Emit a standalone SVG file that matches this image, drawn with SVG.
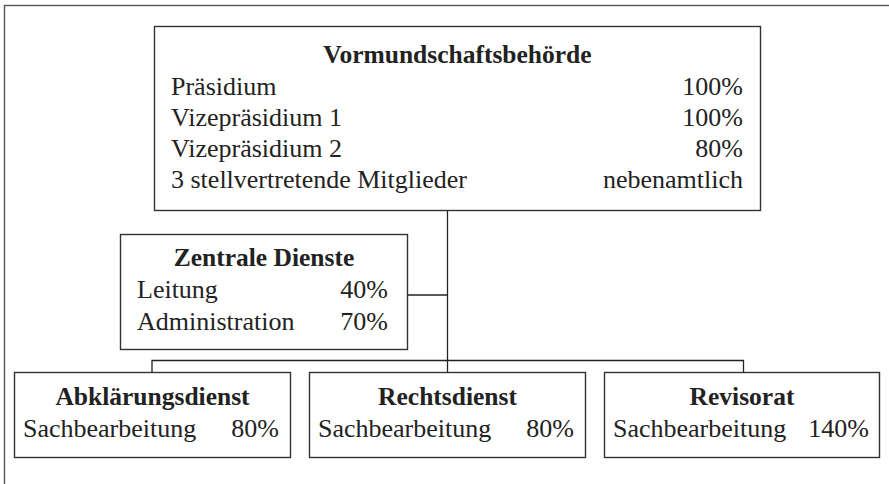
<svg xmlns="http://www.w3.org/2000/svg" width="889" height="484" viewBox="0 0 889 484">
<style>
.box{fill:#fff;stroke:#333;stroke-width:1.4}
.frame{fill:none;stroke:#555;stroke-width:1.4}
.con{fill:none;stroke:#222;stroke-width:1.3}
text{font-family:"Liberation Serif","Times New Roman",serif;font-size:26px;fill:#222}
.t{font-weight:bold;text-anchor:middle;font-size:25.5px}
.r{text-anchor:end}
</style>
<rect class="frame" x="4.5" y="5.5" width="900" height="500"/>
<g id="connectors">
<path class="con" d="M447.5,211 V372"/>
<path class="con" d="M408,295 H447.5"/>
<path class="con" d="M152,372 V360.5 H743.5 V372"/>
</g>
<g id="vormundschaftsbehoerde">
<rect class="box" x="154.5" y="26.5" width="606" height="184"/>
<text class="t" x="457.5" y="63">Vormundschaftsbehörde</text>
<text x="171" y="95">Präsidium</text><text class="r" x="743" y="95">100%</text>
<text x="171" y="126">Vizepräsidium 1</text><text class="r" x="743" y="126">100%</text>
<text x="171" y="157">Vizepräsidium 2</text><text class="r" x="743" y="157">80%</text>
<text x="171" y="188">3 stellvertretende Mitglieder</text><text class="r" x="743" y="188">nebenamtlich</text>
</g>
<g id="zentrale-dienste">
<rect class="box" x="120.5" y="234.5" width="287" height="115"/>
<text class="t" x="264" y="266">Zentrale Dienste</text>
<text x="137" y="298">Leitung</text><text class="r" x="388" y="298">40%</text>
<text x="137" y="330">Administration</text><text class="r" x="388" y="330">70%</text>
</g>
<g id="abklaerungsdienst">
<rect class="box" x="14.5" y="372.5" width="276" height="85"/>
<text class="t" x="152.5" y="405">Abklärungsdienst</text>
<text x="23" y="437">Sachbearbeitung</text><text class="r" x="279" y="437">80%</text>
</g>
<g id="rechtsdienst">
<rect class="box" x="309.5" y="372.5" width="276" height="85"/>
<text class="t" x="447.5" y="405">Rechtsdienst</text>
<text x="318" y="437">Sachbearbeitung</text><text class="r" x="574" y="437">80%</text>
</g>
<g id="revisorat">
<rect class="box" x="604.5" y="372.5" width="275" height="85"/>
<text class="t" x="742" y="405">Revisorat</text>
<text x="613" y="437">Sachbearbeitung</text><text class="r" x="869" y="437">140%</text>
</g>
</svg>
